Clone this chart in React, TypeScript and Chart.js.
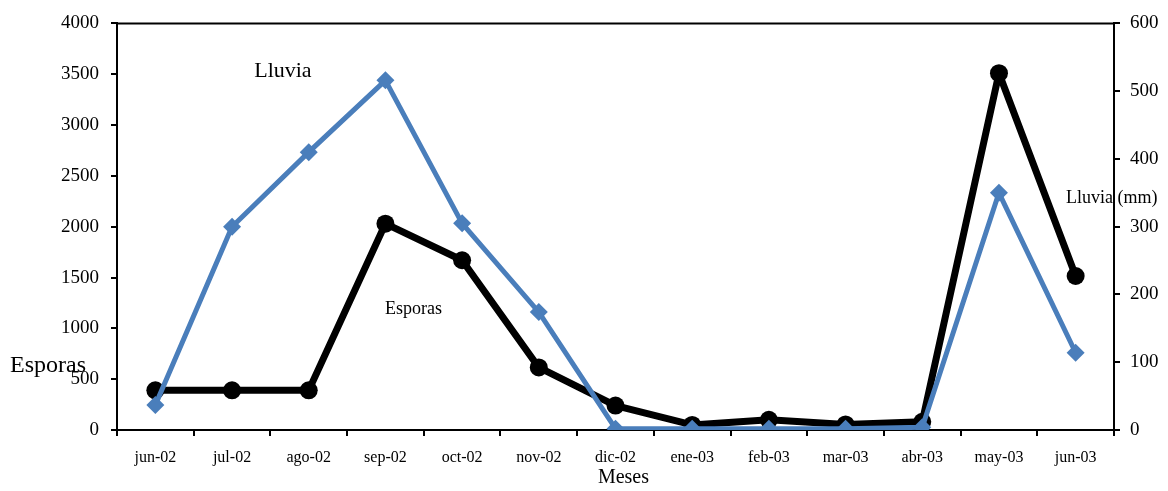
import React, { useEffect, useRef } from "react";
import { Chart, registerables } from "chart.js";

Chart.register(...registerables);

// Months on the horizontal axis
const meses = [
  "jun-02", "jul-02", "ago-02", "sep-02", "oct-02", "nov-02", "dic-02",
  "ene-03", "feb-03", "mar-03", "abr-03", "may-03", "jun-03",
];

// Spore counts (left axis)
const esporas = [390, 390, 390, 2030, 1670, 615, 240, 50, 100, 55, 80, 3510, 1515];

// Rainfall in mm (right axis)
const lluvia = [37, 300, 410, 516, 305, 174, 2, 2, 2, 2, 4, 350, 114];

// Axis tick settings
const esporasTicks = { min: 0, max: 4000, step: 500 };
const lluviaTicks = { min: 0, max: 600, step: 100 };

const SERIF = "'Liberation Serif', 'Times New Roman', serif";
const BLUE = "#4A7EBB";

// Draws the top frame line plus the free-standing text labels
const labelsPlugin = {
  id: "labelsPlugin",
  afterDraw(chart: any) {
    const { ctx, chartArea } = chart;
    const { left, right, top, bottom } = chartArea;
    const w = right - left;
    const h = bottom - top;
    ctx.save();
    ctx.strokeStyle = "#000";
    ctx.lineWidth = 2;
    ctx.beginPath();
    ctx.moveTo(left, top);
    ctx.lineTo(right, top);
    ctx.stroke();

    ctx.fillStyle = "#000";
    ctx.textBaseline = "middle";

    ctx.textAlign = "left";
    ctx.font = `22px ${SERIF}`;
    ctx.fillText("Lluvia", left + 0.1376 * w, top + 0.117 * h);

    ctx.font = `18px ${SERIF}`;
    ctx.fillText("Esporas", left + 0.2688 * w, top + 0.702 * h);

    ctx.font = `24px ${SERIF}`;
    ctx.fillText("Esporas", 10, 366);

    ctx.font = `18px ${SERIF}`;
    ctx.fillText("Lluvia (mm)", 1066, 198);

    ctx.textAlign = "center";
    ctx.font = `20px ${SERIF}`;
    ctx.fillText("Meses", left + 0.508 * w, 478);
    ctx.restore();
  },
};

const plain = (v: any) => String(v);

export default function App() {
  const ref = useRef<HTMLCanvasElement | null>(null);

  useEffect(() => {
    if (!ref.current) return;
    const chart = new Chart(ref.current, {
      type: "line",
      data: {
        labels: meses,
        datasets: [
          {
            label: "Lluvia",
            data: lluvia,
            yAxisID: "y1",
            borderColor: BLUE,
            backgroundColor: BLUE,
            borderWidth: 5,
            borderJoinStyle: "round",
            pointStyle: "rectRot",
            pointRadius: 9,
            pointBorderWidth: 0,
            tension: 0,
            order: 0,
          },
          {
            label: "Esporas",
            data: esporas,
            yAxisID: "y",
            borderColor: "#000",
            backgroundColor: "#000",
            borderWidth: 7,
            borderJoinStyle: "round",
            pointStyle: "circle",
            pointRadius: 9,
            pointBorderWidth: 0,
            tension: 0,
            order: 1,
          },
        ],
      },
      plugins: [labelsPlugin],
      options: {
        responsive: false,
        animation: false,
        devicePixelRatio: 1,
        layout: { padding: { top: 21, left: 0, right: 0, bottom: 0 } },
        plugins: {
          legend: { display: false },
          tooltip: { enabled: false },
        },
        scales: {
          x: {
            type: "category",
            offset: true,
            grid: {
              offset: true,
              drawOnChartArea: false,
              drawTicks: true,
              tickLength: 6,
              color: "#000",
              lineWidth: 2,
            },
            border: { color: "#000", width: 2 },
            ticks: {
              color: "#000",
              font: { family: SERIF, size: 16 },
              padding: 12,
              maxRotation: 0,
              autoSkip: false,
            },
            afterFit(scale: any) {
              scale.height = 61;
            },
          },
          y: {
            position: "left",
            min: esporasTicks.min,
            max: esporasTicks.max,
            grid: {
              drawOnChartArea: false,
              tickLength: 6,
              color: "#000",
              lineWidth: 2,
            },
            border: { color: "#000", width: 2 },
            ticks: {
              stepSize: esporasTicks.step,
              color: "#000",
              font: { family: SERIF, size: 19 },
              padding: 12,
              callback: plain,
            },
            afterFit(scale: any) {
              scale.width = 117;
            },
          },
          y1: {
            position: "right",
            min: lluviaTicks.min,
            max: lluviaTicks.max,
            grid: {
              drawOnChartArea: false,
              tickLength: 6,
              color: "#000",
              lineWidth: 2,
            },
            border: { color: "#000", width: 2 },
            ticks: {
              stepSize: lluviaTicks.step,
              color: "#000",
              font: { family: SERIF, size: 19 },
              padding: 10,
              callback: plain,
            },
            afterFit(scale: any) {
              scale.width = 54;
            },
          },
        },
      },
    });
    return () => chart.destroy();
  }, []);

  return (
    <div style={{ position: "absolute", left: 0, top: 0, width: 1168, height: 491, background: "#fff" }}>
      <canvas ref={ref} width={1168} height={491} />
    </div>
  );
}
